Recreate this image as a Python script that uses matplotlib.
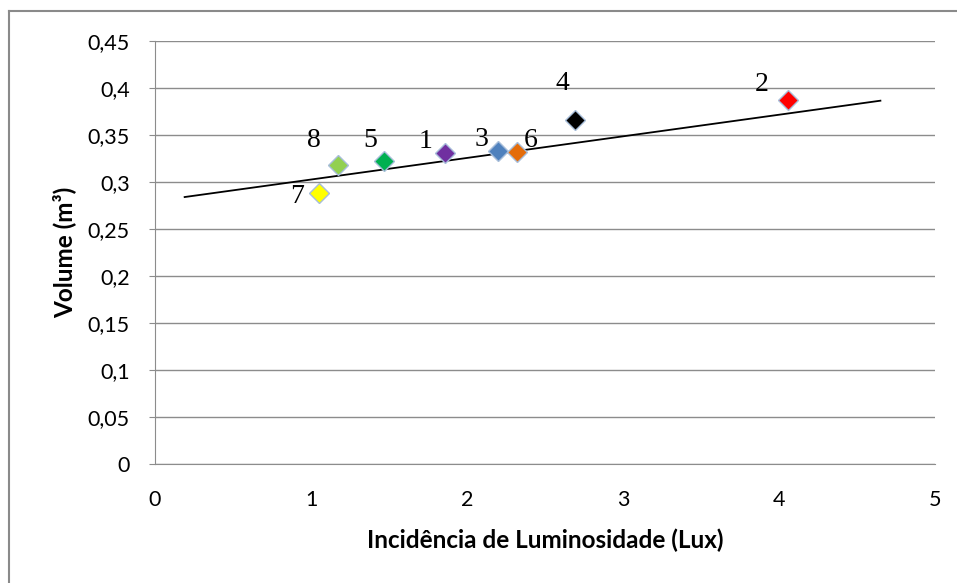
import numpy as np
import matplotlib.pyplot as plt
from matplotlib.lines import Line2D

# data
point_labels = ['1', '2', '3', '4', '5', '6', '7', '8']
lux = [1.86, 4.06, 2.20, 2.69, 1.47, 2.32, 1.05, 1.17]
volume = [0.331, 0.387, 0.333, 0.366, 0.322, 0.332, 0.288, 0.318]
point_colors = ['#7030A0', '#FF0000', '#4F81BD', '#000000',
                '#00B050', '#E46C0A', '#FFFF00', '#92D050']
# label offsets (points) relative to each marker
label_offsets = [(-14, 8), (-19, 11), (-12, 8), (-9, 26),
                 (-10, 15), (10, 8), (-16, -2), (-17, 18)]

trend_x = [0.19, 4.65]
trend_y = [0.284, 0.3865]

y_ticks = [0, 0.05, 0.1, 0.15, 0.2, 0.25, 0.3, 0.35, 0.4, 0.45]
y_ticklabels = ['0', '0,05', '0,1', '0,15', '0,2', '0,25', '0,3', '0,35', '0,4', '0,45']
x_ticks = [0, 1, 2, 3, 4, 5]

plt.rcParams['font.family'] = ['Lato', 'DejaVu Sans']

fig = plt.figure(figsize=(9.57, 5.83), dpi=100)
ax = fig.add_axes([155 / 957, 1 - 464 / 583, 780 / 957, 423 / 583])

grid_col = '#8C8C8C'
ax.set_xlim(0, 5)
ax.set_ylim(0, 0.45)
ax.set_yticks(y_ticks)
ax.set_yticklabels(y_ticklabels)
ax.set_xticks(x_ticks)
ax.grid(axis='y', color=grid_col, lw=1)
ax.set_axisbelow(True)
for side in ['top', 'right']:
    ax.spines[side].set_visible(False)
for side in ['left', 'bottom']:
    ax.spines[side].set_color(grid_col)
ax.tick_params(axis='y', length=4, color=grid_col, labelsize=15.5, pad=14)
ax.tick_params(axis='x', length=0, labelsize=15.5, pad=19)

ax.plot(trend_x, trend_y, color='black', lw=1.3, zorder=2)

for i in range(len(lux)):
    ax.plot(lux[i], volume[i], marker='D', ms=10, color=point_colors[i],
            mec='#A8BEDA', mew=1, ls='none', zorder=3)
    ax.annotate(point_labels[i], (lux[i], volume[i]), xytext=label_offsets[i],
                textcoords='offset points', ha='center', va='center',
                fontsize=20, family='Liberation Serif', zorder=4)

ax.set_xlabel('Incidência de Luminosidade (Lux)', fontsize=17.5, fontweight='bold', labelpad=13)
ax.set_ylabel('Volume (m³)', fontsize=17.5, fontweight='bold', labelpad=8)

# outer chart border
fig.add_artist(Line2D([9 / 957, 9 / 957], [0, 1 - 11 / 583], transform=fig.transFigure,
                      color='#8A8A8A', lw=1.5))
fig.add_artist(Line2D([9 / 957, 1], [1 - 11 / 583, 1 - 11 / 583], transform=fig.transFigure,
                      color='#8A8A8A', lw=1.5))

fig.savefig('out.png', dpi=100)
plt.close(fig)
